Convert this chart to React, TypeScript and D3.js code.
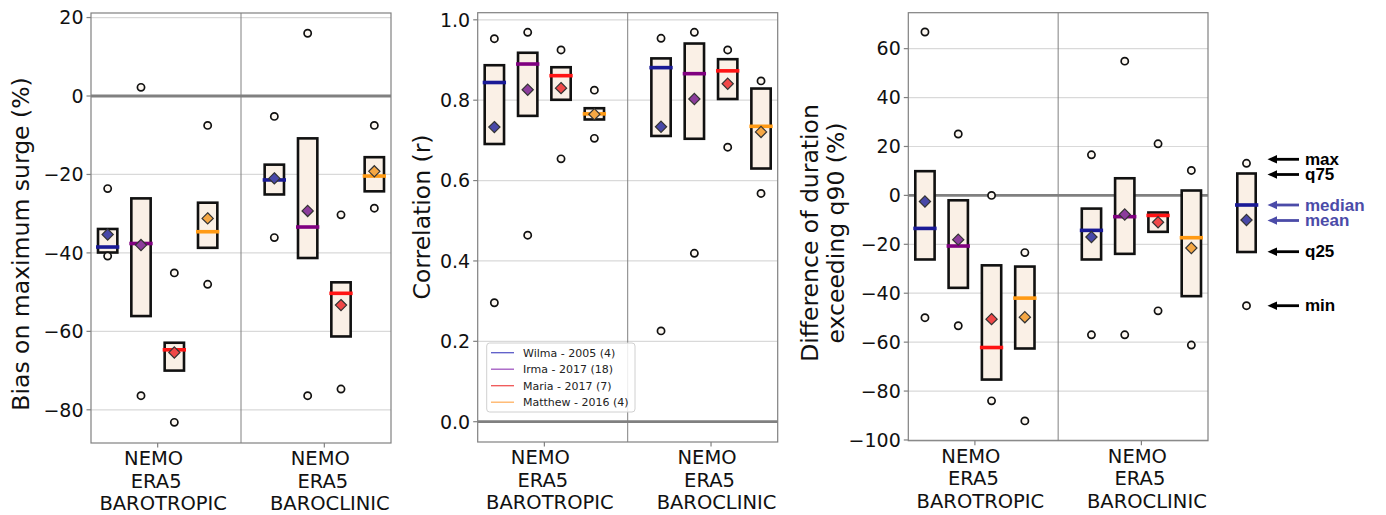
import React from "react";
import * as d3 from "d3";

// ---------- data ----------
const storms = ["Wilma - 2005 (4)", "Irma - 2017 (18)", "Maria - 2017 (7)", "Matthew - 2016 (4)"];
const groupLabels = [
  ["NEMO", "ERA5", "BAROTROPIC"],
  ["NEMO", "ERA5", "BAROCLINIC"],
];
// order: barotropic (Wilma, Irma, Maria, Matthew), baroclinic (Wilma, Irma, Maria, Matthew)
const biasMin = [-40.8, -76.4, -83.2, -48.0, -36.1, -76.4, -74.7, -28.6];
const biasQ25 = [-39.9, -56.1, -70.0, -38.7, -25.1, -41.3, -61.3, -24.3];
const biasMedian = [-38.5, -37.6, -64.7, -34.6, -21.4, -33.4, -50.3, -20.4];
const biasMean = [-35.3, -38.0, -65.4, -31.2, -21.0, -29.3, -53.3, -19.2];
const biasQ75 = [-33.9, -26.1, -62.9, -27.2, -17.5, -10.8, -47.5, -15.6];
const biasMax = [-23.6, 2.2, -45.1, -7.5, -5.2, 16.0, -30.3, -7.5];

const corrMin = [0.296, 0.464, 0.654, 0.705, 0.226, 0.419, 0.683, 0.568];
const corrQ25 = [0.691, 0.761, 0.801, 0.752, 0.711, 0.704, 0.803, 0.63];
const corrMedian = [0.844, 0.89, 0.861, 0.766, 0.881, 0.866, 0.873, 0.735];
const corrMean = [0.733, 0.826, 0.83, 0.765, 0.734, 0.803, 0.841, 0.721];
const corrQ75 = [0.887, 0.918, 0.882, 0.78, 0.904, 0.941, 0.902, 0.829];
const corrMax = [0.953, 0.969, 0.925, 0.825, 0.954, 0.969, 0.925, 0.848];

const durMin = [-50.0, -53.3, -84.0, -92.2, -57.0, -57.0, -47.2, -61.2];
const durQ25 = [-26.2, -37.8, -75.3, -62.6, -26.2, -23.9, -14.9, -41.2];
const durMedian = [-13.5, -20.7, -62.2, -42.0, -14.3, -8.7, -8.2, -17.3];
const durMean = [-2.5, -18.1, -50.6, -49.8, -17.0, -7.8, -11.0, -21.5];
const durQ75 = [9.9, -2.0, -28.6, -29.1, -5.4, 7.0, -7.0, 2.0];
const durMax = [66.8, 25.1, 0.0, -23.4, 16.6, 54.9, 21.1, 10.2];

const biasTicks = [-80, -60, -40, -20, 0, 20];
const corrTicks = [0, 0.2, 0.4, 0.6, 0.8, 1.0];
const durTicks = [-100, -80, -60, -40, -20, 0, 20, 40, 60];

const keyLabels = ["max", "q75", "median", "mean", "q25", "min"];

// ---------- styles ----------
const medianColors = ["#1a1a96", "#800080", "#ff1414", "#ff9a14"];
const meanColors = ["#4848a8", "#8c3c9c", "#f04848", "#f5a744"];
const legendColors = ["#5a5ac8", "#a055c0", "#f05555", "#ffb060"];
const FONT = "DejaVu Sans, sans-serif";
const GRAY = "#808080";
const lineShift = [-4, -1.5, 5.5];

type Stats = { min: number[]; q25: number[]; median: number[]; mean: number[]; q75: number[]; max: number[] };

const panels = [
  {
    x0: 91, x1: 391, y0: 13, y1: 443, domain: [-88.46, 21.16],
    ticks: biasTicks, fmt: d3.format("d"),
    label: ["Bias on maximum surge (%)"], labelX: [29], labelY: 244,
    stats: { min: biasMin, q25: biasQ25, median: biasMedian, mean: biasMean, q75: biasQ75, max: biasMax } as Stats,
    legend: false,
  },
  {
    x0: 477.7, x1: 777.7, y0: 12.7, y1: 442, domain: [-0.0505, 1.0177],
    ticks: corrTicks, fmt: d3.format(".1f"),
    label: ["Correlation (r)"], labelX: [430], labelY: 217,
    stats: { min: corrMin, q25: corrQ25, median: corrMedian, mean: corrMean, q75: corrQ75, max: corrMax } as Stats,
    legend: true,
  },
  {
    x0: 908.3, x1: 1208, y0: 12.7, y1: 440.7, domain: [-100.3, 74.7],
    ticks: durTicks, fmt: d3.format("d"),
    label: ["Difference of duration", "exceeding q90 (%)"], labelX: [818, 843.5], labelY: 233,
    stats: { min: durMin, q25: durQ25, median: durMedian, mean: durMean, q75: durQ75, max: durMax } as Stats,
    legend: false,
  },
];

const positions = d3.range(8).map((i) => (i < 4 ? i : i + 1));
const diamond = (r: number) => `M0,${-r}L${r},0L0,${r}L${-r},0Z`;

function Panel({ p }: { p: (typeof panels)[number] }) {
  const x = d3.scaleLinear().domain([-0.5, 8.5]).range([p.x0, p.x1]);
  const y = d3.scaleLinear().domain(p.domain).range([p.y1, p.y0]);
  const bw = 0.58;
  const mw = 0.7;
  const s = p.stats;
  return (
    <g>
      {/* grid */}
      {p.ticks.filter((t) => t !== 0).map((t) => (
        <line key={"g" + t} x1={p.x0} x2={p.x1} y1={y(t)} y2={y(t)} stroke="#d9d9d9" strokeWidth={1.2} />
      ))}
      <line x1={p.x0} x2={p.x1} y1={y(0)} y2={y(0)} stroke={GRAY} strokeWidth={2.8} />
      <line x1={x(4)} x2={x(4)} y1={p.y0} y2={p.y1} stroke={GRAY} strokeWidth={1} />
      {/* boxes */}
      {positions.map((pos, i) => {
        const c = i % 4;
        const cx = x(pos);
        const bwPx = x(bw) - x(0);
        const mwPx = x(mw) - x(0);
        return (
          <g key={"b" + i}>
            <rect x={cx - bwPx / 2} y={y(s.q75[i])} width={bwPx} height={y(s.q25[i]) - y(s.q75[i])}
              fill="#faf0e6" stroke="#111" strokeWidth={2.6} />
            <line x1={cx - mwPx / 2} x2={cx + mwPx / 2} y1={y(s.median[i])} y2={y(s.median[i])}
              stroke={medianColors[c]} strokeWidth={3.6} />
            <path d={diamond(5.6)} transform={`translate(${cx},${y(s.mean[i])})`} fill={meanColors[c]}
              stroke="#333" strokeWidth={1.2} />
            <circle cx={cx} cy={y(s.max[i])} r={3.6} fill="#fdf8f2" stroke="#111" strokeWidth={1.7} />
            <circle cx={cx} cy={y(s.min[i])} r={3.6} fill="#fdf8f2" stroke="#111" strokeWidth={1.7} />
          </g>
        );
      })}
      {/* spines */}
      <rect x={p.x0} y={p.y0} width={p.x1 - p.x0} height={p.y1 - p.y0} fill="none" stroke={GRAY} strokeWidth={1.2} />
      {/* y ticks */}
      {p.ticks.map((t) => (
        <g key={"t" + t}>
          <line x1={p.x0 - 4.5} x2={p.x0} y1={y(t)} y2={y(t)} stroke={GRAY} strokeWidth={1.2} />
          <text x={p.x0 - 7.5} y={y(t)} dy="0.36em" textAnchor="end" fontFamily={FONT} fontSize={19} fill="#111">
            {p.fmt(t)}
          </text>
        </g>
      ))}
      {/* x ticks */}
      {[1.5, 6.5].map((t, gi) => (
        <g key={"x" + t}>
          <line x1={x(t)} x2={x(t)} y1={p.y1} y2={p.y1 + 4.5} stroke={GRAY} strokeWidth={1.2} />
          {groupLabels[gi].map((ln, li) => (
            <text key={li} x={x(t) + lineShift[li]} y={p.y1 + 22 + li * 22.5} textAnchor="middle" fontFamily={FONT}
              fontSize={19.5} fill="#111">
              {ln}
            </text>
          ))}
        </g>
      ))}
      {/* y label */}
      {p.label.map((ln, li) => (
        <text key={"l" + li} transform={`translate(${p.labelX[li]},${p.labelY}) rotate(-90)`} textAnchor="middle"
          fontFamily={FONT} fontSize={23.5} fill="#111">
          {ln}
        </text>
      ))}
      {p.legend && (
        <g>
          <rect x={486.7} y={343} width={148.3} height={69} rx={3} fill="#fff" fillOpacity={0.85} stroke="#d0d0d0" strokeWidth={1} />
          {storms.map((st, i) => (
            <g key={st}>
              <line x1={491} x2={514} y1={352.7 + i * 16.5} y2={352.7 + i * 16.5} stroke={legendColors[i]} strokeWidth={1.3} />
              <text x={523} y={352.7 + i * 16.5} dy="0.36em" fontFamily={FONT} fontSize={11} fill="#222">{st}</text>
            </g>
          ))}
        </g>
      )}
    </g>
  );
}

function Key() {
  const cx = 1246.5;
  const arrowY = [159.3, 174.5, 205, 220.5, 251.7, 305.7];
  const blue = "#4b4ba8";
  const colors = ["#000", "#000", blue, blue, "#000", "#000"];
  return (
    <g>
      <rect x={1237.3} y={173.5} width={18.4} height={78.5} fill="#faf0e6" stroke="#111" strokeWidth={2.6} />
      <line x1={1235} x2={1258.3} y1={205} y2={205} stroke="#1a1a96" strokeWidth={3.6} />
      <path d={diamond(5.6)} transform={`translate(${cx},220)`} fill="#4848a8" stroke="#333" strokeWidth={1.2} />
      <circle cx={cx} cy={163.3} r={3.6} fill="#fdf8f2" stroke="#111" strokeWidth={1.7} />
      <circle cx={cx} cy={305.7} r={3.6} fill="#fdf8f2" stroke="#111" strokeWidth={1.7} />
      {keyLabels.map((lb, i) => (
        <g key={lb}>
          <line x1={1275} x2={1299} y1={arrowY[i]} y2={arrowY[i]} stroke={colors[i]} strokeWidth={2.8} />
          <path d={`M1267.5,${arrowY[i]}L1277,${arrowY[i] - 4.2}L1277,${arrowY[i] + 4.2}Z`} fill={colors[i]} />
          <text x={1305} y={arrowY[i]} dy="0.34em" fontFamily="Liberation Sans, Arial, sans-serif" fontWeight="bold"
            fontSize={17} fill={colors[i]}>
            {lb}
          </text>
        </g>
      ))}
    </g>
  );
}

export default function App() {
  return (
    <svg width={1386} height={515} style={{ position: "absolute", left: 0, top: 0, background: "#fff" }}>
      <rect width={1386} height={515} fill="#fff" />
      {panels.map((p, i) => (
        <Panel key={i} p={p} />
      ))}
      <Key />
    </svg>
  );
}
